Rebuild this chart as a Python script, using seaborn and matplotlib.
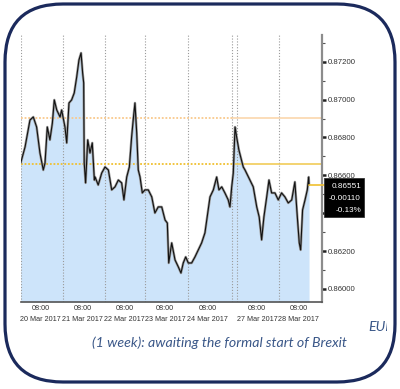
import matplotlib
matplotlib.use("Agg")
import matplotlib.pyplot as plt
import matplotlib.ticker as mticker
from matplotlib.patches import FancyBboxPatch, Rectangle
from matplotlib.transforms import Bbox, blended_transform_factory
import seaborn as sns
import pandas as pd

# ---------------- data ----------------
hours = [0.0, 2.5, 5.3, 7.2, 9.1, 11.0, 12.9, 13.9, 15.2, 16.7, 18.1, 19.2, 20.6, 22.5, 23.4,
         25.3, 26.3, 27.6, 29.1, 30.6, 32.0, 33.3, 34.5, 35.4, 36.0, 36.3, 37.1, 38.3, 39.6,
         40.9, 42.1, 42.5, 44.3, 46.3, 48.2, 50.1, 52.0, 53.9, 55.8, 57.7, 59.0, 60.6, 62.1,
         63.4, 64.3, 65.3, 66.3, 67.2, 68.2, 69.5, 71.0, 72.9, 74.9, 76.7, 78.6, 80.6, 82.5,
         83.8, 84.6, 86.3, 88.2, 90.1, 91.6, 92.9, 94.3, 95.8, 97.7, 99.6, 101.5, 103.4,
         105.3, 106.9, 108.2, 110.1, 112.0, 113.3, 114.9, 116.7, 118.6, 119.6, 120.6, 121.5,
         122.5, 123.4, 124.7, 126.6, 127.2, 128.2, 131.0, 132.9, 134.9, 136.3, 137.7, 139.0,
         140.6, 141.9, 143.4, 145.3, 147.2, 149.1, 151.0, 152.9, 154.9, 156.7, 158.1, 159.2,
         160.0, 161.1, 162.5, 163.8, 164.6, 164.8]
prices = [0.86665, 0.86750, 0.86892, 0.86908, 0.86855, 0.86718, 0.86628, 0.86665, 0.86855,
          0.86787, 0.86876, 0.86998, 0.86945, 0.86908, 0.86945, 0.86855, 0.86771, 0.86982,
          0.86998, 0.87035, 0.87119, 0.87209, 0.87246, 0.87140, 0.87088, 0.86665, 0.86560,
          0.86787, 0.86718, 0.86771, 0.86575, 0.86591, 0.86549, 0.86612, 0.86644, 0.86628,
          0.86523, 0.86539, 0.86575, 0.86560, 0.86470, 0.86591, 0.86644, 0.86803, 0.86892,
          0.86982, 0.86824, 0.86628, 0.86591, 0.86507, 0.86523, 0.86523, 0.86486, 0.86401,
          0.86433, 0.86433, 0.86364, 0.86348, 0.86137, 0.86243, 0.86153, 0.86116, 0.86084,
          0.86137, 0.86169, 0.86137, 0.86137, 0.86169, 0.86206, 0.86243, 0.86296, 0.86401,
          0.86486, 0.86523, 0.86591, 0.86523, 0.86539, 0.86507, 0.86470, 0.86433, 0.86539,
          0.86612, 0.86855, 0.86803, 0.86734, 0.86665, 0.86644, 0.86628, 0.86575, 0.86539,
          0.86433, 0.86380, 0.86259, 0.86380, 0.86486, 0.86575, 0.86507, 0.86507, 0.86470,
          0.86507, 0.86486, 0.86454, 0.86470, 0.86565, 0.86380, 0.86243, 0.86206, 0.86417,
          0.86470, 0.86523, 0.86591, 0.86551]

day_bounds = [0, 24, 48, 71, 95.5, 120.5, 123.7, 147.7]
day_label_hours = [11.5, 35.5, 59.5, 82.5, 107.0, 135.2, 158.7]
day_labels = ["20 Mar 2017", "21 Mar 2017", "22 Mar 2017", "23 Mar 2017",
              "24 Mar 2017", "27 Mar 2017", "28 Mar 2017"]
level_upper = 0.86905
level_lower = 0.86658
last_price = "0.86551"
last_change = "-0.00110"
last_pct = "-0.13%"
caption = "(1 week): awaiting the formal start of Brexit"

df = pd.DataFrame({"hour": hours, "price": prices})

# ---------------- figure ----------------
sns.set_style("white")
plt.rcParams["font.family"] = ["Liberation Sans", "DejaVu Sans"]

fig = plt.figure(figsize=(4.0, 3.89), dpi=100)
ax = fig.add_axes([20.7 / 400, 87 / 389, 301.3 / 400, 267 / 389])
ax.set_xlim(0, 172.2)
ax.set_ylim(0.85931, 0.87341)

fill_c = "#CDE4FA"
ax.fill_between(df["hour"], df["price"], 0.85931, color=fill_c, lw=0, zorder=1)

for b in day_bounds:
    ax.axvline(b, color="#9a9a9a", lw=0.8, ls=(0, (1, 1.6)), zorder=2)

split = 121.0
ax.plot([0, split], [level_upper] * 2, color="#F9C98C", lw=1.3, ls=(0, (1, 1)), zorder=2)
ax.plot([split, 172.2], [level_upper] * 2, color="#FAD3A6", lw=1.1, zorder=2)
ax.plot([0, split], [level_lower] * 2, color="#F0C030", lw=1.3, ls=(0, (1, 1)), zorder=2)
ax.plot([split, 172.2], [level_lower] * 2, color="#F0C84A", lw=1.1, zorder=2)

sns.lineplot(data=df, x="hour", y="price", ax=ax, color="#9a9a9a", lw=1.8, zorder=3)
sns.lineplot(data=df, x="hour", y="price", ax=ax, color="#111111", lw=0.8, zorder=4)
ax.plot([hours[-1], 173.5], [prices[-1]] * 2, color="#F0C030", lw=1.2, zorder=4,
        clip_on=False)

ax.set_xlabel("")
ax.set_ylabel("")

# spines
for s in ["left", "top"]:
    ax.spines[s].set_visible(False)
ax.spines["bottom"].set_color("#555555")
ax.spines["bottom"].set_linewidth(1.2)
ax.spines["right"].set_color("#8c8c8c")
ax.spines["right"].set_linewidth(1.6)


def ylab(v, pos):
    # the 0.86400 label sits behind the last-price box
    if abs(v - 0.864) < 1e-6:
        return ""
    return "%.5f" % v


# y axis on right
ax.yaxis.tick_right()
ax.yaxis.set_major_locator(mticker.MultipleLocator(0.002))
ax.yaxis.set_minor_locator(mticker.MultipleLocator(0.001))
ax.yaxis.set_major_formatter(mticker.FuncFormatter(ylab))
ax.tick_params(axis="y", which="major", direction="out", length=3, width=1.8,
               color="#222222", labelsize=5.6, pad=1, labelcolor="#333333")
ax.tick_params(axis="y", which="minor", direction="out", length=2, width=0.8,
               color="#555555")

# x axis
ax.xaxis.set_major_locator(mticker.FixedLocator(day_bounds))
ax.xaxis.set_major_formatter(mticker.NullFormatter())
ax.xaxis.set_minor_locator(mticker.MultipleLocator(4))
ax.tick_params(axis="x", which="major", direction="out", length=19, width=0.9,
               color="#555555")
ax.tick_params(axis="x", which="minor", direction="out", length=1.8, width=0.6,
               color="#777777")
trans = blended_transform_factory(ax.transData, ax.transAxes)
for h, lab in zip(day_label_hours, day_labels):
    ax.text(h, -0.012, "08:00\n" + lab, transform=trans, ha="center", va="top",
            fontsize=5.2, color="#333333", linespacing=1.85)

# ---------------- overlay (pixel coordinates) ----------------
ov = fig.add_axes([0, 0, 1, 1], facecolor="none")
ov.set_xlim(0, 400)
ov.set_ylim(389, 0)
ov.axis("off")

ov.add_patch(FancyBboxPatch((5, 4), 390, 378,
                            boxstyle="round,pad=0,rounding_size=58",
                            fc="none", ec="#1B2A5C", lw=2.3))

ov.add_patch(Rectangle((324, 178), 40, 39, fc="black", ec="#333333", lw=0.6, zorder=5))
for yy, tx in zip([186, 198, 210], [last_price, last_change, last_pct]):
    ov.text(361, yy, tx, ha="right", va="center", color="white", fontsize=5.9, zorder=6)

cap_c = "#3A5788"
ov.text(347, 343, caption, ha="right", va="center", fontsize=10.2, style="italic",
        color=cap_c, family=["Lato", "DejaVu Sans"])
eur = ov.text(368, 327, "EUR", ha="left", va="center", fontsize=10.2, style="italic",
              color=cap_c, family=["Lato", "DejaVu Sans"])
eur.set_clip_box(Bbox([[0, 0], [387, 389]]))
eur.set_clip_on(True)

fig.savefig("out.png", dpi=100)
